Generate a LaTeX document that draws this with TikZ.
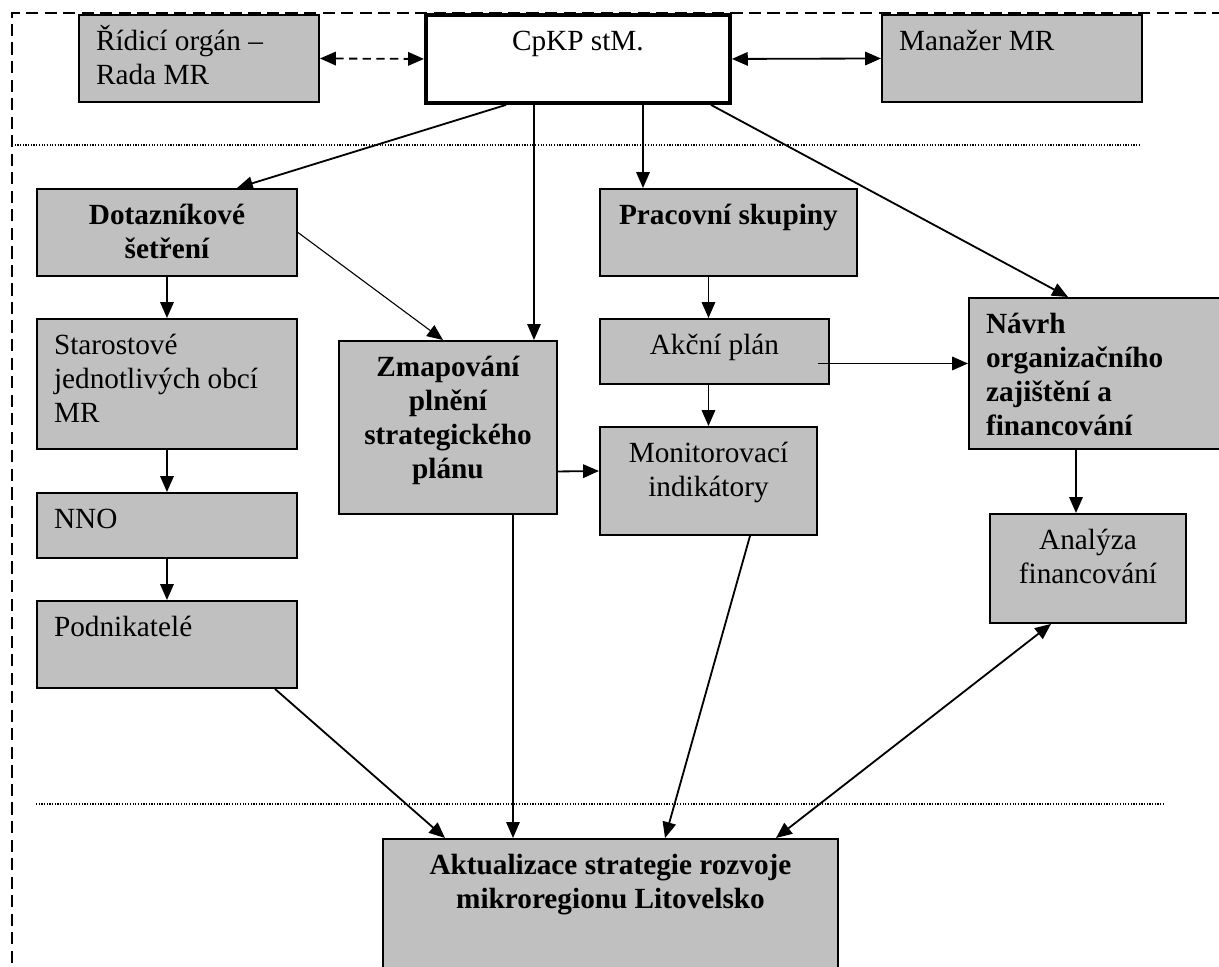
\documentclass[tikz,border=0pt]{standalone}
\usepackage{fontspec}
\setmainfont{Liberation Serif}
\usetikzlibrary{arrows.meta}
\definecolor{boxgray}{RGB}{192,192,192}
\newlength{\px}
\setlength{\px}{0.41pt}
\newcommand{\cell}[4]{\parbox[c][#2\px][t]{\dimexpr#1\px-14pt\relax}{#3\rule{0pt}{36\px}#4}}

\begin{document}
\begin{tikzpicture}[x=0.41pt,y=-0.41pt,>={Triangle[length=6.5pt,width=5.5pt]},
 blk/.style={draw,fill=boxgray,line width=0.8pt,inner xsep=7pt,inner ysep=0pt,
  anchor=north west,font=\fontsize{12}{13.94}\selectfont},
 link/.style={line width=0.75pt}]
 \useasboundingbox (0,0) rectangle (1219,967);

 \draw[line width=1pt,dash pattern=on 5pt off 2.6pt] (12,1000) -- (12,13) -- (1240,13);
 \draw[line width=0.5pt,dash pattern=on 0.5pt off 0.6pt] (12,145) -- (1140,145);
 \draw[line width=0.5pt,dash pattern=on 0.5pt off 0.6pt] (36,804) -- (1163,804);

 \node[blk] (rid) at (78,14) {\cell{240}{87}{\raggedright}{Řídicí orgán –\\Rada MR}};
 \node[blk,fill=white,line width=1.6pt] (cpkp) at (424,13) {\cell{304}{88}{\centering}{CpKP stM.}};
 \node[blk] (man) at (881,14) {\cell{260}{87}{\raggedright}{Manažer MR}};
 \node[blk] (dot) at (36,188) {\cell{260}{87}{\centering\bfseries}{Dotazníkové\\šetření}};
 \node[blk] (prac) at (599,188) {\cell{257}{87}{\centering\bfseries}{Pracovní skupiny}};
 \node[blk] (star) at (36,318) {\cell{260}{130}{\raggedright}{Starostové\\jednotlivých obcí\\MR}};
 \node[blk] (akc) at (599,318) {\cell{229}{65}{\centering}{Akční plán}};
 \node[blk] (zmap) at (338,340) {\cell{218}{173}{\centering\bfseries}{Zmapování\\plnění\\strategického\\plánu}};
 \node[blk] (nav) at (968,297) {\cell{300}{151}{\raggedright\bfseries}{Návrh\\organizačního\\zajištění a\\financování}};
 \node[blk] (mon) at (599,426) {\cell{217}{108}{\centering}{Monitorovací\\indikátory}};
 \node[blk] (nno) at (36,492) {\cell{260}{65}{\raggedright}{NNO}};
 \node[blk] (ana) at (989,513) {\cell{196}{109}{\centering}{Analýza\\financování}};
 \node[blk] (pod) at (36,600) {\cell{260}{87}{\raggedright}{Podnikatelé}};
 \node[blk] (akt) at (382,838) {\cell{455}{200}{\centering\bfseries}{Aktualizace strategie rozvoje\\mikroregionu Litovelsko}};

 \path[->,link] (rid.east) edge[<->,dash pattern=on 3.4pt off 2.2pt] (cpkp.west)
 (cpkp.east) edge[<->] (man.west)
 ([xshift=82\px]cpkp.south west) edge ([xshift=201\px]dot.north west)
 ([xshift=110\px]cpkp.south west) edge[line width=0.55pt] ([xshift=196\px]zmap.north west)
 ([xshift=219\px]cpkp.south west) edge ([xshift=44\px]prac.north west)
 ([xshift=287\px]cpkp.south west) edge ([xshift=100\px]nav.north west)
 (dot.east) edge[line width=0.45pt] ([xshift=105\px]zmap.north west)
 (dot.south) edge (star.north)
 (star.south) edge (nno.north)
 (nno.south) edge (pod.north)
 ([yshift=-44\px]zmap.east) edge ([yshift=10\px]mon.west)
 (prac.south -| mon.north) edge (akc.north -| mon.north)
 (akc.south -| mon.north) edge (mon.north)
 ([xshift=-12\px,yshift=-12\px]akc.east) edge ([yshift=10\px]nav.west)
 ([xshift=108\px]nav.south west) edge ([xshift=87\px]ana.north west)
 ([xshift=239\px]pod.south west) edge ([xshift=63\px]akt.north west)
 ([xshift=175\px]zmap.south west) edge[line width=0.55pt] ([xshift=131\px]akt.north west)
 ([xshift=151\px]mon.south west) edge ([xshift=283\px]akt.north west)
 ([xshift=62\px]ana.south west) edge[<->] ([xshift=394\px]akt.north west);
\end{tikzpicture}
\end{document}
